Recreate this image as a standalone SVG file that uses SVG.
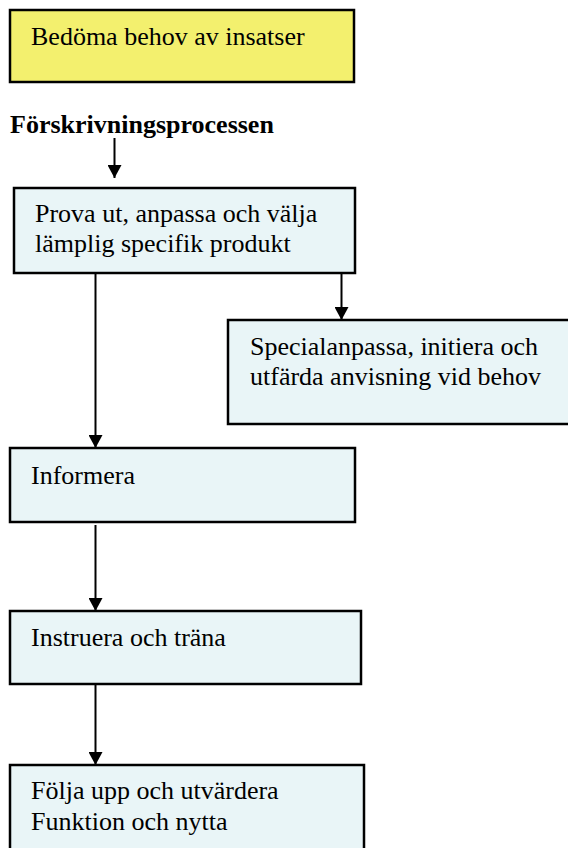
<svg xmlns="http://www.w3.org/2000/svg" width="568" height="848" viewBox="0 0 568 848">
<defs>
<style>
.box{fill:#e9f5f7;stroke:#000;stroke-width:2.5}
.yel{fill:#f3f06e;stroke:#000;stroke-width:2.5}
.t{font-family:"Liberation Serif","Times New Roman",serif;font-size:26px;fill:#000}
.b{font-weight:bold}
.c{stroke:#000;stroke-width:2;fill:none}
</style>
<marker id="ah" viewBox="0 0 13 14" refX="13" refY="7" markerWidth="13" markerHeight="14" markerUnits="userSpaceOnUse" orient="auto">
<path d="M0,0 L13,7 L0,14 Z" fill="#000"/>
</marker>
</defs>
<rect width="568" height="848" fill="#fff"/>
<g id="n-bedoma">
<rect class="yel" x="10" y="10" width="344" height="72"/>
<text class="t" x="31" y="45">Bedöma behov av insatser</text>
</g>
<g id="n-title">
<text class="t b" x="10" y="133">Förskrivningsprocessen</text>
</g>
<g id="n-prova">
<rect class="box" x="14" y="188" width="341" height="85"/>
<text class="t" x="35" y="222">Prova ut, anpassa och välja</text>
<text class="t" x="35" y="252">lämplig specifik produkt</text>
</g>
<g id="n-special">
<rect class="box" x="228" y="320" width="345" height="104"/>
<text class="t" x="250" y="355">Specialanpassa, initiera och</text>
<text class="t" x="250" y="385">utfärda anvisning vid behov</text>
</g>
<g id="n-informera">
<rect class="box" x="10" y="448" width="345" height="74"/>
<text class="t" x="31" y="484">Informera</text>
</g>
<g id="n-instruera">
<rect class="box" x="10" y="611" width="351" height="73"/>
<text class="t" x="31" y="646">Instruera och träna</text>
</g>
<g id="n-folja">
<rect class="box" x="10" y="765" width="354" height="90"/>
<text class="t" x="31" y="799">Följa upp och utvärdera</text>
<text class="t" x="31" y="830">Funktion och nytta</text>
</g>
<g id="connectors">
<line class="c" x1="114.5" y1="138" x2="114.5" y2="178" marker-end="url(#ah)"/>
<line class="c" x1="341.5" y1="273" x2="341.5" y2="320" marker-end="url(#ah)"/>
<line class="c" x1="95.5" y1="273" x2="95.5" y2="448" marker-end="url(#ah)"/>
<line class="c" x1="95.5" y1="525" x2="95.5" y2="611" marker-end="url(#ah)"/>
<line class="c" x1="95.5" y1="685" x2="95.5" y2="765" marker-end="url(#ah)"/>
</g>
</svg>
